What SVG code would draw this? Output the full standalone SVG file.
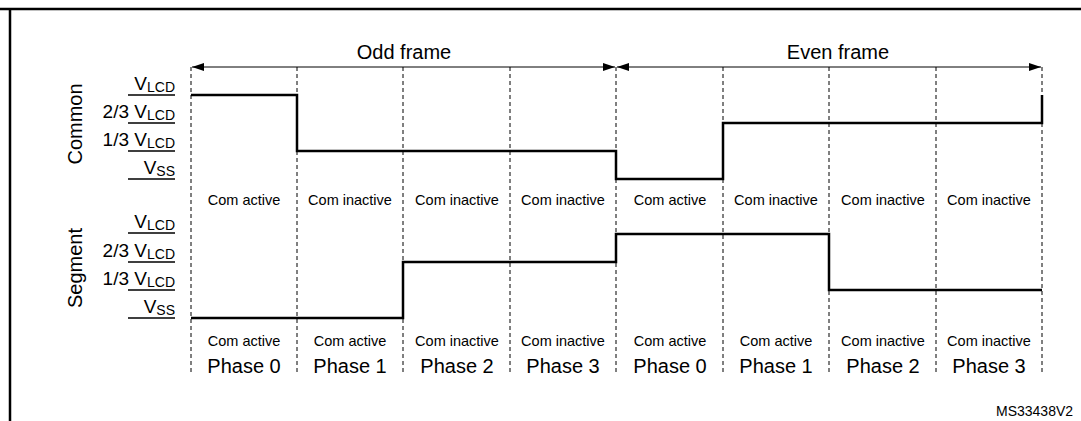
<svg xmlns="http://www.w3.org/2000/svg" width="1081" height="421" viewBox="0 0 1081 421">
<defs>
<marker id="ah" markerWidth="12" markerHeight="8" refX="12" refY="4" orient="auto-start-reverse" markerUnits="userSpaceOnUse"><path d="M0,0 L12,4 L0,8 z" fill="#000"/></marker>
<style>
text{font-family:"Liberation Sans",Arial,sans-serif;fill:#000}
.grid{stroke:#000;stroke-width:1;stroke-dasharray:4,3}
.wave{stroke:#000;stroke-width:2.5;fill:none}
.lv{font-size:19px;text-anchor:end}
.sub{font-size:14px}
.ul{stroke:#000;stroke-width:1.5}
.st{font-size:14.5px;text-anchor:middle}
.ph{font-size:20px;text-anchor:middle}
</style>
</defs>
<rect width="1081" height="421" fill="#fff"/>
<path d="M0,9 H1081 M10,9 V421" stroke="#000" stroke-width="2.5" fill="none"/>
<g id="grid">
<line class="grid" x1="191" y1="67" x2="191" y2="375"/>
<line class="grid" x1="297" y1="67" x2="297" y2="375"/>
<line class="grid" x1="403" y1="67" x2="403" y2="375"/>
<line class="grid" x1="510" y1="67" x2="510" y2="375"/>
<line class="grid" x1="616" y1="67" x2="616" y2="375"/>
<line class="grid" x1="723" y1="67" x2="723" y2="375"/>
<line class="grid" x1="829" y1="67" x2="829" y2="375"/>
<line class="grid" x1="936" y1="67" x2="936" y2="375"/>
<line class="grid" x1="1042" y1="67" x2="1042" y2="375"/>
</g>
<g id="frames">
<line x1="192" y1="67" x2="615" y2="67" stroke="#000" stroke-width="1" marker-start="url(#ah)" marker-end="url(#ah)"/>
<line x1="617" y1="67" x2="1041" y2="67" stroke="#000" stroke-width="1" marker-start="url(#ah)" marker-end="url(#ah)"/>
<text x="404" y="59" font-size="20" text-anchor="middle">Odd frame</text>
<text x="838" y="59" font-size="20" text-anchor="middle">Even frame</text>
</g>
<g id="common-axis">
<text transform="translate(82,124) rotate(-90)" font-size="20" text-anchor="middle">Common</text>
<text class="lv" x="175" y="90">V<tspan class="sub" dy="2">LCD</tspan></text>
<text class="lv" x="175" y="118">2/3 V<tspan class="sub" dy="2">LCD</tspan></text>
<text class="lv" x="175" y="146">1/3 V<tspan class="sub" dy="2">LCD</tspan></text>
<text class="lv" x="175" y="174">V<tspan class="sub" dy="2">SS</tspan></text>
<path class="ul" d="M128,95 H175 M128,123 H175 M128,151 H175 M128,179 H175"/>
</g>
<g id="segment-axis">
<text transform="translate(82,268) rotate(-90)" font-size="20" text-anchor="middle">Segment</text>
<text class="lv" x="175" y="228">V<tspan class="sub" dy="2">LCD</tspan></text>
<text class="lv" x="175" y="257">2/3 V<tspan class="sub" dy="2">LCD</tspan></text>
<text class="lv" x="175" y="285">1/3 V<tspan class="sub" dy="2">LCD</tspan></text>
<text class="lv" x="175" y="313">V<tspan class="sub" dy="2">SS</tspan></text>
<path class="ul" d="M128,233 H175 M128,262 H175 M128,290 H175 M128,318 H175"/>
</g>
<g id="connectors">
<path id="common-wave" class="wave" d="M191,95 H297 V151 H616 V179 H723 V123 H1042 V95"/>
<path id="segment-wave" class="wave" d="M191,318 H403 V262 H616 V234 H829 V290 H1042"/>
</g>
<g id="common-states">
<text class="st" x="244" y="205">Com active</text>
<text class="st" x="350" y="205">Com inactive</text>
<text class="st" x="457" y="205">Com inactive</text>
<text class="st" x="563" y="205">Com inactive</text>
<text class="st" x="670" y="205">Com active</text>
<text class="st" x="776" y="205">Com inactive</text>
<text class="st" x="883" y="205">Com inactive</text>
<text class="st" x="989" y="205">Com inactive</text>
</g>
<g id="segment-states">
<text class="st" x="244" y="346">Com active</text>
<text class="st" x="350" y="346">Com active</text>
<text class="st" x="457" y="346">Com inactive</text>
<text class="st" x="563" y="346">Com inactive</text>
<text class="st" x="670" y="346">Com active</text>
<text class="st" x="776" y="346">Com active</text>
<text class="st" x="883" y="346">Com inactive</text>
<text class="st" x="989" y="346">Com inactive</text>
</g>
<g id="phases">
<text class="ph" x="244" y="373">Phase 0</text>
<text class="ph" x="350" y="373">Phase 1</text>
<text class="ph" x="457" y="373">Phase 2</text>
<text class="ph" x="563" y="373">Phase 3</text>
<text class="ph" x="670" y="373">Phase 0</text>
<text class="ph" x="776" y="373">Phase 1</text>
<text class="ph" x="883" y="373">Phase 2</text>
<text class="ph" x="989" y="373">Phase 3</text>
</g>
<text x="996" y="416" font-size="14">MS33438V2</text>
</svg>
